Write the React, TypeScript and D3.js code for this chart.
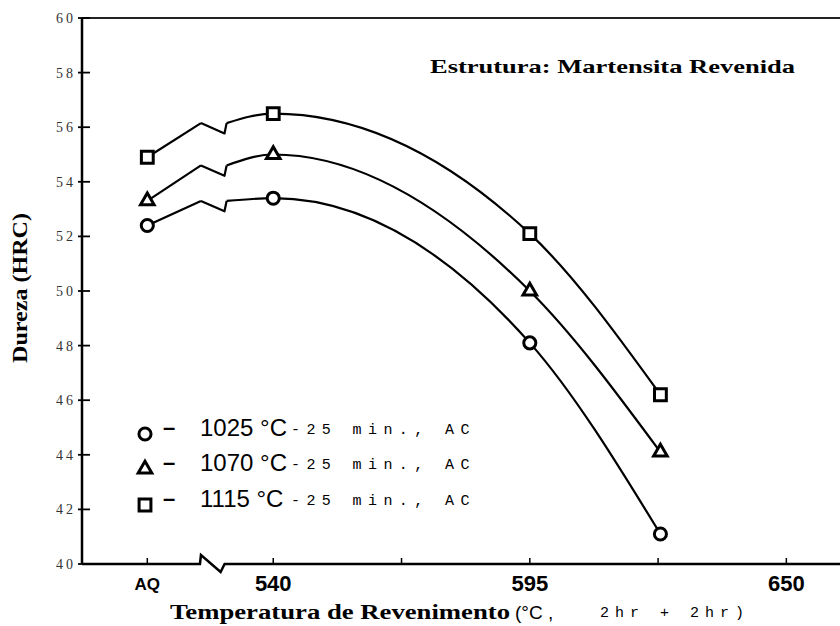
import React from 'react';
import * as d3 from 'd3';

const W = 840;
const H = 626;
const margin = { top: 18, right: 0, bottom: 62, left: 82 };

// broken temperature axis: "AQ" sits left of the break, then 540..650 °C
const AQ_POS = 513;
const BREAK_LO = 524.5;
const BREAK_HI = 530;
const temps = [540, 595, 623];
const xTickVals = [540, 567.5, 595, 622.5, 650];
const xLabelVals = [540, 595, 650];
const yTickVals = [40, 42, 44, 46, 48, 50, 52, 54, 56, 58, 60];

// hardness (HRC): AQ, 540, 595, 623
const hrc1025 = [52.4, 53.4, 48.1, 41.1];
const hrc1070 = [53.3, 55.0, 50.0, 44.1];
const hrc1115 = [54.9, 56.5, 52.1, 46.2];
// curve level where it crosses the axis break
const breakHrc = [53.3, 54.6, 56.15];

const seriesLabels = ['1025 °C', '1070 °C', '1115 °C'];
const seriesData = [hrc1025, hrc1070, hrc1115];
const seriesSymbols = [d3.symbolCircle, d3.symbolTriangle, d3.symbolSquare];
const symbolSizes = [115, 80, 140];

export default function App() {
  const x = d3.scaleLinear().domain([499, 661.5]).range([margin.left, W - margin.right]);
  const y = d3.scaleLinear().domain([40, 60]).range([H - margin.bottom, margin.top]);
  const y0 = y(40);

  const line = d3.line<[number, number]>().x(d => x(d[0])).y(d => y(d[1]));
  const curve = d3
    .line<[number, number]>()
    .x(d => x(d[0]))
    .y(d => y(d[1]))
    .curve(d3.curveMonotoneX);

  // x axis with the zig-zag break
  const axisPath =
    `M${x.range()[0]},${y0}L${x(BREAK_LO) - 1},${y0}` +
    `L${x(BREAK_LO)},${y0 - 9}L${x(BREAK_HI) - 6},${y0 + 8}L${x(BREAK_HI) - 2},${y0}` +
    `L${x.range()[1]},${y0}`;

  const legendY = [434, 469, 505];

  return (
    <div style={{ position: 'absolute', left: 0, top: 0 }}>
      <svg width={W} height={H} style={{ display: 'block', background: '#fff' }}>
        {/* frame */}
        <line x1={margin.left} x2={W} y1={margin.top} y2={margin.top} stroke="#222" strokeWidth={2} />
        <line x1={margin.left} x2={margin.left} y1={margin.top} y2={y0} stroke="#000" strokeWidth={2.5} />
        <path d={axisPath} fill="none" stroke="#000" strokeWidth={2.5} />

        {/* y ticks */}
        {yTickVals.map(v => (
          <g key={v}>
            <line x1={margin.left - 4} x2={margin.left + 8} y1={y(v)} y2={y(v)} stroke="#000" strokeWidth={1.8} />
            <text
              x={76}
              y={y(v) + 5}
              textAnchor="end"
              fontFamily="Liberation Serif, serif"
              fontSize={14}
              letterSpacing={3}
              fill="#333"
            >
              {v}
            </text>
          </g>
        ))}

        {/* x ticks */}
        {[AQ_POS, ...xTickVals].map(v => (
          <line key={v} x1={x(v)} x2={x(v)} y1={y0} y2={y0 - 6} stroke="#000" strokeWidth={1.5} />
        ))}
        <text
          x={x(AQ_POS)}
          y={590}
          textAnchor="middle"
          fontFamily="Liberation Sans, Arial, sans-serif"
          fontWeight="bold"
          fontSize={17}
        >
          AQ
        </text>
        {xLabelVals.map(v => (
          <text
            key={v}
            x={x(v)}
            y={591}
            textAnchor="middle"
            fontFamily="Liberation Sans Narrow, Liberation Sans, sans-serif"
            fontWeight="bold"
            fontSize={22}
          >
            {v}
          </text>
        ))}

        {/* axis titles */}
        <text
          x={170}
          y={619}
          fontFamily="Liberation Serif, serif"
          fontWeight="bold"
          fontSize={20}
          textLength={340}
          lengthAdjust="spacingAndGlyphs"
        >
          Temperatura de Revenimento
        </text>
        <text x={515} y={619} fontFamily="Liberation Sans, sans-serif" fontSize={19}>
          (°C ,
        </text>
        <text
          x={600}
          y={617}
          fontFamily="Liberation Mono, monospace"
          fontSize={15}
          letterSpacing={6}
          style={{ whiteSpace: 'pre' }}
        >
          2hr + 2hr)
        </text>
        <text
          transform={`translate(27,288) rotate(-90)`}
          textAnchor="middle"
          fontFamily="Liberation Serif, serif"
          fontWeight="bold"
          fontSize={20}
          textLength={150}
          lengthAdjust="spacingAndGlyphs"
        >
          Dureza (HRC)
        </text>

        <text
          x={430}
          y={73}
          fontFamily="Liberation Serif, serif"
          fontWeight="bold"
          fontSize={19}
          textLength={365}
          lengthAdjust="spacingAndGlyphs"
        >
          Estrutura: Martensita Revenida
        </text>

        {/* curves */}
        {seriesData.map((vals, i) => {
          const b = breakHrc[i];
          const left = line([
            [AQ_POS, vals[0]],
            [BREAK_LO, b],
          ]);
          const zig = line([
            [BREAK_LO, b],
            [BREAK_HI - 0.45, b - 0.38],
            [BREAK_HI, b],
          ]);
          const right = curve([
            [BREAK_HI, b],
            ...temps.map((t, j) => [t, vals[j + 1]] as [number, number]),
          ]);
          return (
            <g key={i} fill="none" stroke="#000" strokeWidth={2.2} strokeLinejoin="round">
              <path d={left ?? ''} />
              <path d={zig ?? ''} />
              <path d={right ?? ''} />
            </g>
          );
        })}

        {/* markers */}
        {seriesData.map((vals, i) => {
          const sym = d3.symbol().type(seriesSymbols[i]).size(symbolSizes[i])();
          const pts: [number, number][] = [[AQ_POS, vals[0]], ...temps.map((t, j) => [t, vals[j + 1]] as [number, number])];
          return (
            <g key={i}>
              {pts.map((p, k) => (
                <path
                  key={k}
                  d={sym ?? ''}
                  transform={`translate(${x(p[0])},${y(p[1])})`}
                  fill="#fff"
                  stroke="#000"
                  strokeWidth={3}
                />
              ))}
            </g>
          );
        })}

        {/* legend */}
        {seriesLabels.map((lab, i) => {
          const sym = d3.symbol().type(seriesSymbols[i]).size(symbolSizes[i])();
          const ly = legendY[i];
          return (
            <g key={lab}>
              <path d={sym ?? ''} transform={`translate(145,${ly})`} fill="#fff" stroke="#000" strokeWidth={3} />
              <text x={163} y={ly + 1} fontFamily="Liberation Sans, sans-serif" fontWeight="bold" fontSize={22}>
                –
              </text>
              <text x={200} y={ly + 2} fontFamily="Liberation Sans, sans-serif" fontSize={24}>
                {lab}
              </text>
              <text
                x={291}
                y={ly}
                fontFamily="Liberation Mono, monospace"
                fontSize={15}
                letterSpacing={6.4}
                style={{ whiteSpace: 'pre' }}
              >
                -25 min., AC
              </text>
            </g>
          );
        })}
      </svg>
    </div>
  );
}
